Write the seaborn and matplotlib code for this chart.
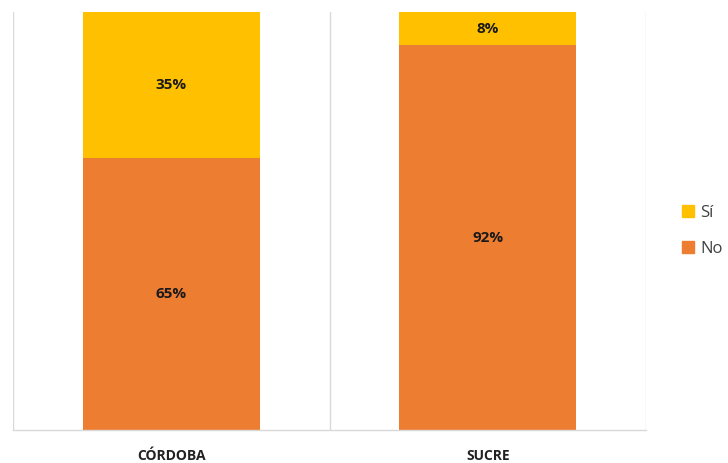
import matplotlib
matplotlib.use("Agg")
import matplotlib.pyplot as plt
import seaborn as sns
import pandas as pd
from matplotlib.patches import Patch

categories = ["CÓRDOBA", "SUCRE"]
no_values = [65, 92]
si_values = [35, 8]
series_labels = ["Sí", "No"]

sns.set_style("white")
plt.rcParams['font.family'] = ['Open Sans', 'DejaVu Sans']

c_no = "#ED7D31"
c_si = "#FFC000"

df = pd.DataFrame({"cat": categories, "no": no_values, "si": si_values})
df["total"] = df["no"] + df["si"]

fig = plt.figure(figsize=(7.28, 4.63), dpi=100)
ax = fig.add_axes([13/728, 1 - 430/463, (646 - 13)/728, (430 - 12)/463])

sns.barplot(data=df, x="cat", y="total", color=c_si, width=0.56, ax=ax,
            saturation=1, edgecolor="none")
sns.barplot(data=df, x="cat", y="no", color=c_no, width=0.56, ax=ax,
            saturation=1, edgecolor="none")

ax.set_xlim(-0.5, 1.5)
ax.set_ylim(0, 100)
for xv in [-0.5, 0.5, 1.5]:
    ax.axvline(xv, color="#d9d9d9", lw=1, zorder=0)

for i, (n, s) in enumerate(zip(no_values, si_values)):
    ax.text(i, n / 2, f"{n}%", ha="center", va="center", fontsize=11,
            fontweight="bold", color="#1a1a1a")
    ax.text(i, n + s / 2, f"{s}%", ha="center", va="center", fontsize=11,
            fontweight="bold", color="#1a1a1a")

ax.set_xlabel("")
ax.set_ylabel("")
ax.set_yticks([])
ax.tick_params(axis="x", length=0, pad=14)
for lbl in ax.get_xticklabels():
    lbl.set_fontweight("bold")
    lbl.set_fontsize(10)
    lbl.set_color("#222222")
for side in ["top", "left", "right"]:
    ax.spines[side].set_visible(False)
ax.spines["bottom"].set_color("#d9d9d9")
ax.spines["bottom"].set_linewidth(1)

handles = [Patch(color=c_si), Patch(color=c_no)]
fig.legend(handles, series_labels, loc="center left",
           bbox_to_anchor=(667/728, 1 - 231/463), frameon=False,
           fontsize=12, handlelength=0.7, handleheight=0.7,
           handletextpad=0.4, labelspacing=1.2, labelcolor="#404040")

fig.savefig("out.png", dpi=100)
